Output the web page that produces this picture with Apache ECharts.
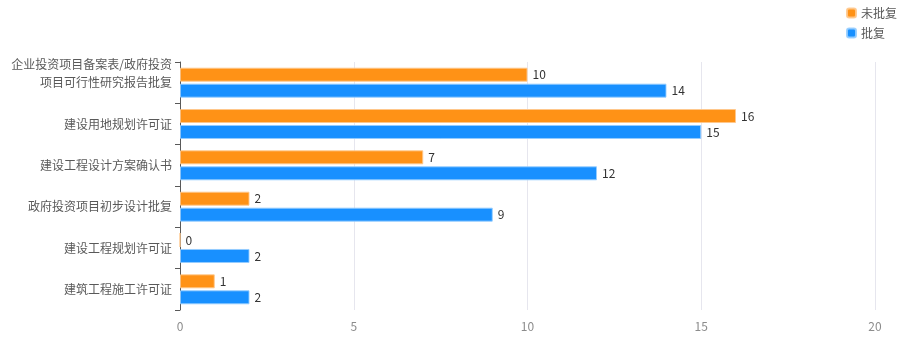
<!DOCTYPE html>
<html><head><meta charset="utf-8">
<script src="https://cdn.jsdelivr.net/npm/echarts@6/dist/echarts.min.js"></script>
<style>html,body{margin:0;padding:0;background:#fff}#c{width:912px;height:356px}</style>
</head><body><div id="c"></div>
<script>
const categories = ['企业投资项目备案表/政府投资\n项目可行性研究报告批复','建设用地规划许可证','建设工程设计方案确认书','政府投资项目初步设计批复','建设工程规划许可证','建筑工程施工许可证'];
const unapproved = [10,16,7,2,0,1];
const approved = [14,15,12,9,2,2];
const xTicks = {min:0,max:20,interval:5};
const chart = echarts.init(document.getElementById('c'));
const font = '"Noto Sans CJK SC", sans-serif';
chart.setOption({
  textStyle:{fontFamily:font},
  legend:{orient:'vertical',right:10,top:2,itemWidth:9,itemHeight:9,itemGap:8,icon:'roundRect',
    textStyle:{color:'#595959',fontSize:12,fontFamily:font},data:['未批复','批复']},
  grid:{left:180,right:37,top:62,bottom:46,containLabel:false},
  xAxis:{type:'value',min:xTicks.min,max:xTicks.max,interval:xTicks.interval,
    axisLine:{show:false},axisTick:{show:false},
    axisLabel:{color:'#8c8c8c',fontSize:12,margin:10},
    splitLine:{lineStyle:{color:'#e6e6ee'}}},
  yAxis:{type:'category',data:categories,inverse:true,
    axisLine:{show:true,lineStyle:{color:'#595959'}},axisTick:{show:true,length:5,lineStyle:{color:'#595959'}},
    axisLabel:{color:'#595959',fontSize:12,margin:8,lineHeight:18,
      formatter:(v)=> v.indexOf('\n')>=0 ? v+'\n ' : v}},
  series:[
    {name:'未批复',type:'bar',data:unapproved,barWidth:14,barGap:'14%',
      itemStyle:{color:'#ff9216',borderColor:'rgba(255,200,140,0.9)',borderWidth:1},
      label:{show:true,position:'right',color:'#333',fontSize:12,distance:5}},
    {name:'批复',type:'bar',data:approved,barWidth:14,
      itemStyle:{color:'#1890ff',borderColor:'rgba(150,205,255,0.9)',borderWidth:1},
      label:{show:true,position:'right',color:'#333',fontSize:12,distance:5}}
  ]
});
</script></body></html>
